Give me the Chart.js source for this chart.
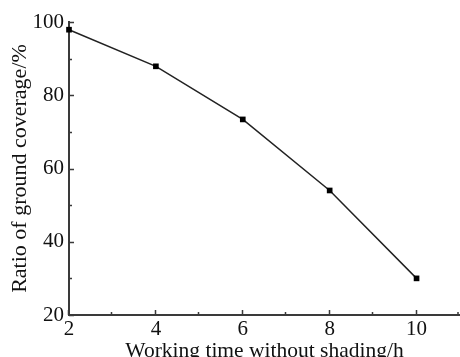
<!DOCTYPE html>
<html>
<head>
<meta charset="utf-8">
<script src="https://cdn.jsdelivr.net/npm/chart.js@4"></script>
<style>
  html, body { margin: 0; padding: 0; background: #fff; }
  #wrap { width: 460px; height: 357px; }
</style>
</head>
<body>
<div id="wrap"><canvas id="chart"></canvas></div>
<script>
// ===== DATA =====
const hours    = [2, 4, 6, 8, 10];
const coverage = [97.9, 87.9, 73.4, 54.0, 30.0];

const xTicks = [2, 4, 6, 8, 10];
const xMinor = [3, 5, 7, 9, 11];
const yTicks = [20, 40, 60, 80, 100];
const yMinor = [30, 50, 70, 90];

const axisColor = "#3a3a3a";
const serif = "'Liberation Serif', 'Times New Roman', serif";

// ===== INWARD TICKS =====
const inwardTicks = {
  id: "inwardTicks",
  afterDraw(chart) {
    const ctx = chart.ctx;
    const xs = chart.scales.x;
    const ys = chart.scales.y;
    const left = chart.chartArea.left;
    const bottom = chart.chartArea.bottom;
    ctx.save();
    ctx.strokeStyle = axisColor;
    ctx.lineWidth = 1.5;
    ctx.beginPath();
    xTicks.forEach(v => {
      const px = Math.round(xs.getPixelForValue(v)) - 0.5;
      ctx.moveTo(px, bottom); ctx.lineTo(px, bottom - 5);
    });
    xMinor.forEach(v => {
      const px = Math.min(Math.round(xs.getPixelForValue(v)) - 0.5, chart.width - 2);
      ctx.moveTo(px, bottom); ctx.lineTo(px, bottom - 3);
    });
    yTicks.forEach(v => {
      const py = Math.round(ys.getPixelForValue(v)) + 0.5;
      ctx.moveTo(left, py); ctx.lineTo(left + 5, py);
    });
    yMinor.forEach(v => {
      const py = Math.round(ys.getPixelForValue(v)) + 0.5;
      ctx.moveTo(left, py); ctx.lineTo(left + 3, py);
    });
    ctx.stroke();
    ctx.restore();
  }
};

new Chart(document.getElementById("chart"), {
  type: "scatter",
  data: {
    datasets: [{
      data: hours.map((h, i) => ({ x: h, y: coverage[i] })),
      showLine: true,
      borderColor: "#222",
      borderWidth: 1.5,
      backgroundColor: "#000",
      pointStyle: "rect",
      pointRadius: 4,
      pointBorderWidth: 0,
      tension: 0,
      clip: false
    }]
  },
  options: {
    responsive: true,
    maintainAspectRatio: false,
    animation: false,
    layout: { autoPadding: false, padding: { top: 22, right: 0, left: 0, bottom: 0 } },
    plugins: {
      legend: { display: false },
      tooltip: { enabled: false }
    },
    scales: {
      x: {
        type: "linear",
        min: 2,
        max: 11,
        afterBuildTicks: s => { s.ticks = xTicks.map(v => ({ value: v })); },
        afterFit: s => { s.height = 42; s.paddingRight = 0; s.paddingLeft = 0; },
        grid: { display: true, drawOnChartArea: false, drawTicks: false },
        border: { display: true, color: axisColor, width: 2 },
        ticks: {
          color: "#111",
          padding: 2,
          maxRotation: 0,
          font: { family: serif, size: 21 }
        },
        title: {
          display: true,
          text: "Working time without shading/h",
          color: "#111",
          padding: { top: 0, bottom: -7 },
          font: { family: serif, size: 21.5 }
        }
      },
      y: {
        min: 20,
        max: 100,
        afterBuildTicks: s => { s.ticks = yTicks.map(v => ({ value: v })); },
        afterFit: s => { s.width = 69; },
        grid: { display: true, drawOnChartArea: false, drawTicks: false },
        border: { display: true, color: axisColor, width: 2 },
        ticks: {
          color: "#111",
          padding: 5,
          font: { family: serif, size: 21 }
        },
        title: {
          display: true,
          text: "Ratio of ground coverage/%",
          color: "#111",
          padding: { top: 7, bottom: 0 },
          font: { family: serif, size: 22 }
        }
      }
    }
  },
  plugins: [inwardTicks]
});
</script>
</body>
</html>
